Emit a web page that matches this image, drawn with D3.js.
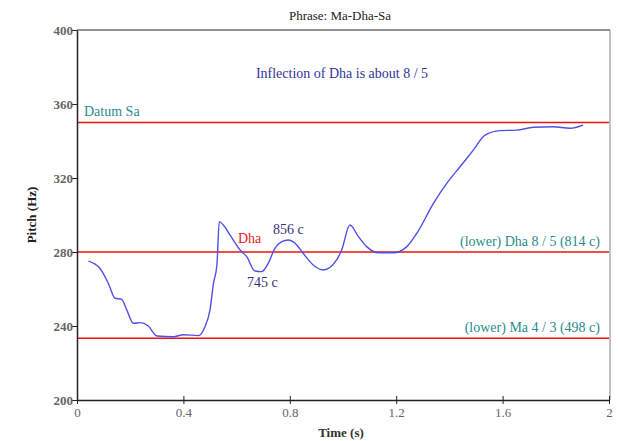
<!DOCTYPE html>
<html><head><meta charset="utf-8">
<script src="https://cdn.jsdelivr.net/npm/d3@7"></script>
<style>body{margin:0;background:#fff}svg{display:block}</style>
</head><body><svg id="c" width="618" height="441"></svg>
<script>
const timeS = [0.043,0.086,0.118,0.143,0.168,0.187,0.212,0.237,0.268,0.30,0.362,0.40,0.456,0.481,0.50,0.513,0.526,0.535,0.55,0.575,0.613,0.638,0.669,0.694,0.719,0.744,0.77,0.794,0.82,0.85,0.888,0.926,0.976,0.995,1.026,1.058,1.089,1.133,1.19,1.24,1.277,1.34,1.39,1.44,1.49,1.534,1.59,1.653,1.716,1.79,1.853,1.903];
const pitchHz = [275.1,271.2,263,255,254.4,248.7,241.5,241.8,240,234.6,234.2,235.3,234.8,239.6,248.7,263,273,296.4,294.6,289.2,281.1,277.5,269.7,269.4,273.9,282,285.6,286.5,284.7,279.3,273,270.3,275.7,281.1,294.6,288.3,282.9,279.6,279.6,282.9,290,306.3,317.1,326.1,335.1,343.2,345.6,345.9,347.4,347.7,346.9,348.6];
const refNames = ["Datum Sa","(lower) Dha 8 / 5 (814 c)","(lower) Ma 4 / 3 (498 c)"];
const refHz = [350,280,233.33];
const xTicks = [0,0.4,0.8,1.2,1.6,2];
const yTicks = [200,240,280,320,360,400];

const FF = '"Times New Roman","Liberation Serif","DejaVu Serif","Noto Serif",serif';
const svg = d3.select("#c").attr("font-family",FF);
const L=77,R=609,T=30,B=400;
const x = d3.scaleLinear().domain([0,2]).range([L,R]);
const y = d3.scaleLinear().domain([200,400]).range([B,T]);

svg.append("line").attr("x1",L).attr("x2",R+1).attr("y1",T).attr("y2",T).attr("stroke","#222").attr("stroke-width",1.2);
svg.append("line").attr("x1",R+1).attr("x2",R+1).attr("y1",T).attr("y2",B).attr("stroke","#999").attr("stroke-width",1.2);

svg.selectAll(".ref").data(refHz).enter().append("line")
  .attr("x1",L).attr("x2",R).attr("y1",d=>y(d)).attr("y2",d=>y(d))
  .attr("stroke","#ee1111").attr("stroke-width",1.5);

svg.append("path").datum(timeS.map((t,i)=>[t,pitchHz[i]]))
  .attr("d",d3.line().x(d=>x(d[0])).y(d=>y(d[1])).curve(d3.curveMonotoneX))
  .attr("fill","none").attr("stroke","#5050e6").attr("stroke-width",1.4);

const ax = svg.append("g").attr("transform",`translate(0,${B})`)
  .call(d3.axisBottom(x).tickValues(xTicks).tickFormat(d=>d).tickSize(4).tickSizeOuter(0));
const ay = svg.append("g").attr("transform",`translate(${L},0)`)
  .call(d3.axisLeft(y).tickValues(yTicks).tickSize(5).tickSizeOuter(0));
[ax,ay].forEach(g=>{
  g.attr("font-family",FF).attr("font-size",13);
  g.select(".domain").attr("stroke","#222").attr("stroke-width",1.5);
  g.selectAll(".tick line").attr("stroke","#222");
  g.selectAll("text").attr("fill","#666");
});
ax.selectAll(".tick line").attr("y1",-4).attr("y2",4);
ax.selectAll("text").attr("y",8);
ay.selectAll("text").attr("x",-4).attr("font-weight","bold");

function label(xp,yp,txt,opt){
  const t=svg.append("text").attr("x",xp).attr("y",yp).attr("font-family",FF).attr("font-size",opt.size||14)
    .attr("fill",opt.fill||"#222").attr("text-anchor",opt.anchor||"start").text(txt);
  if(opt.bold) t.attr("font-weight","bold");
  return t;
}
label(340,20,"Phrase: Ma-Dha-Sa",{size:13,anchor:"middle",fill:"#222"});
label(341,437,"Time (s)",{size:13,anchor:"middle",bold:true,fill:"#333"});
svg.append("text").attr("transform","translate(36,215) rotate(-90)").attr("text-anchor","middle").attr("font-family",FF).attr("font-size",13).attr("font-weight","bold").attr("fill","#222").text("Pitch (Hz)");
label(342,78,"Inflection of Dha is about 8 / 5",{anchor:"middle",fill:"#333399"});
label(84,y(refHz[0])-7,refNames[0],{fill:"#2a8c8c"});
label(600,y(refHz[1])-6,refNames[1],{anchor:"end",fill:"#2a8c8c"});
label(600,y(refHz[2])-6,refNames[2],{anchor:"end",fill:"#2a8c8c"});
label(238,243,"Dha",{fill:"#ee2222"});
label(273,234,"856 c",{fill:"#333377"});
label(247,287,"745 c",{fill:"#333377"});
</script></body></html>
